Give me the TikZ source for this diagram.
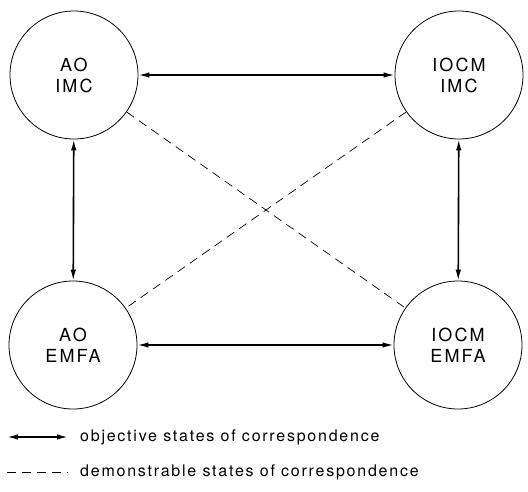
\documentclass[tikz,border=0pt]{standalone}
\usepackage{fontspec}
\setmainfont{TeX Gyre Heros}
\usetikzlibrary{arrows.meta}

\begin{document}
\begin{tikzpicture}[x=1pt,y=-1pt,
        state/.style={circle,draw,line width=0.8pt,minimum size=128pt,inner sep=0pt,
          align=center,font=\fontsize{18}{21}\selectfont\addfontfeatures{LetterSpace=12}},
        objective/.style={{Latex[length=11pt,width=5.5pt]}-{Latex[length=11pt,width=5.5pt]},line width=1.6pt},
        demonstrable/.style={dash pattern=on 9pt off 6pt,line width=0.7pt},
        legend/.style={anchor=west,inner sep=0pt,font=\fontsize{16}{18}\selectfont\addfontfeatures{LetterSpace=11}}]
    \useasboundingbox (0,0) rectangle (528,491);
    % the four states
    \node [state] (aoimc) at (74,75) {AO\\IMC};
    \node [state] (iocmimc) at (459,75) {IOCM\\IMC};
    \node [state] (aoemfa) at (73,345) {AO\\EMFA};
    \node [state] (iocmemfa) at (458,345) {IOCM\\EMFA};
    % objective correspondence
    \draw [objective] (aoimc) -- (iocmimc);
    \draw [objective] (aoemfa) -- (iocmemfa);
    \draw [objective] (aoimc) -- (aoemfa);
    \draw [objective] (iocmimc) -- (iocmemfa);
    % demonstrable correspondence
    \draw [demonstrable] (aoimc) -- (iocmemfa);
    \draw [demonstrable] (iocmimc) -- (aoemfa);
    % legend
    \coordinate (objl) at (7,437);
    \coordinate (objr) at (68,437);
    \node [legend] (objtext) at (80,437) {objective states of correspondence};
    \draw [objective] (objl) -- (objr);
    \coordinate (deml) at (7,472);
    \coordinate (demr) at (68,472);
    \node [legend] (demtext) at (80,472) {demonstrable states of correspondence};
    \draw [demonstrable] (deml) -- (demr);
\end{tikzpicture}
\end{document}
